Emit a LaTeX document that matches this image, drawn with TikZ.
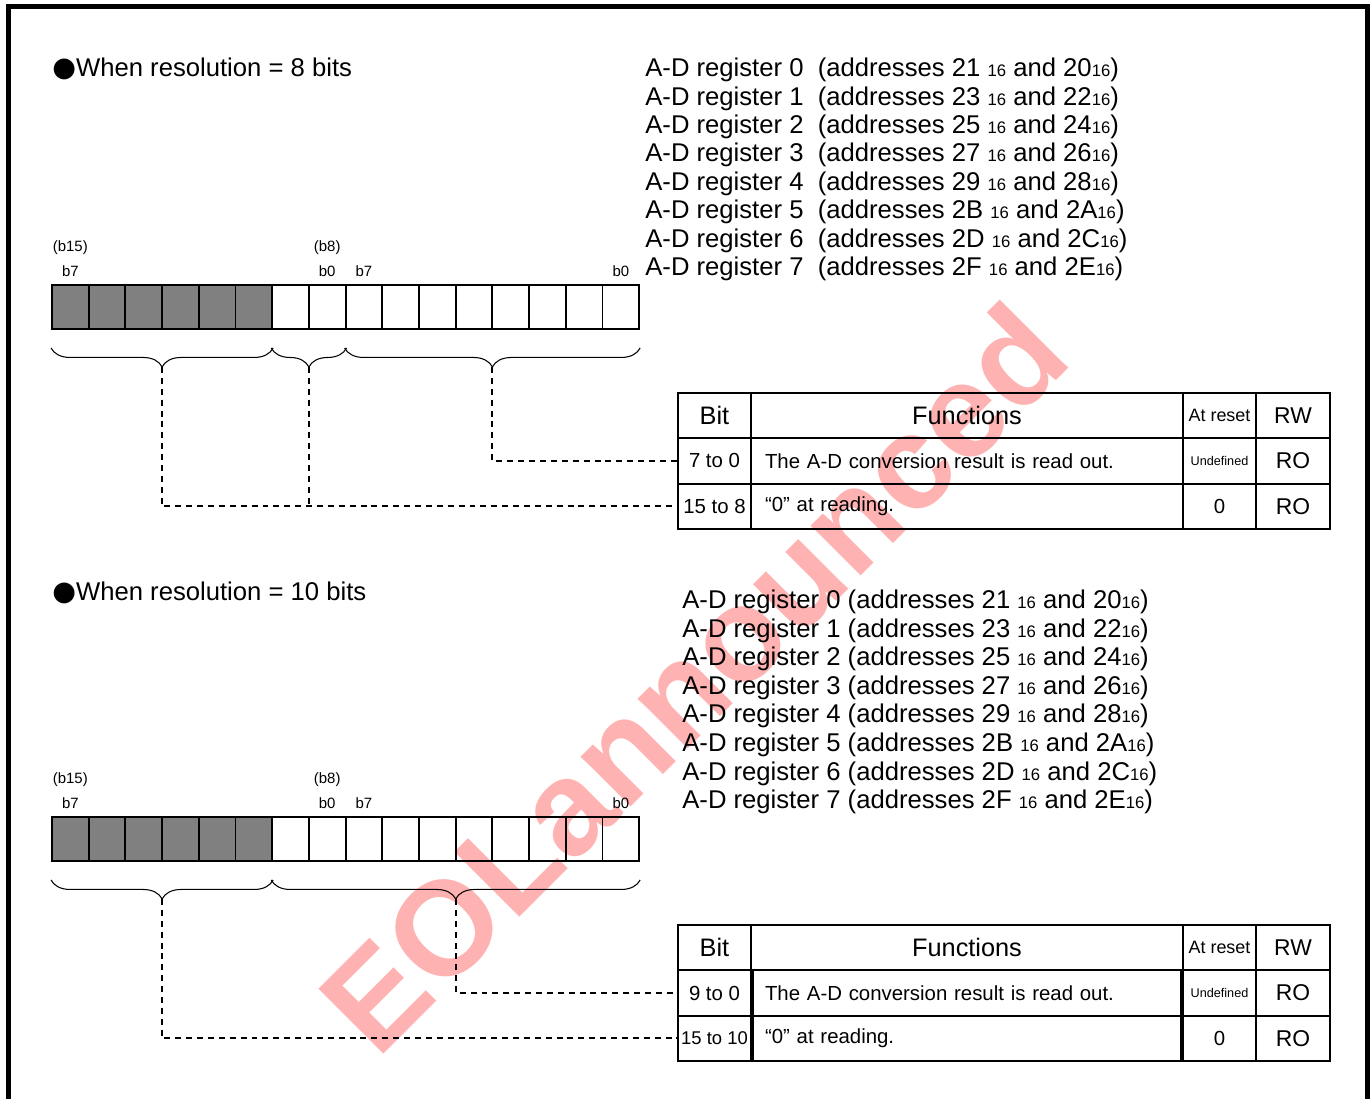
\documentclass[tikz,border=0pt]{standalone}
\usepackage{fontspec}
\setmainfont{Liberation Sans}
\newfontfamily\dejavu{DejaVu Sans}
\usetikzlibrary{positioning,calc,decorations.pathreplacing}
\newcommand{\hexsub}{{\fontsize{9.5}{10}\selectfont 16}}
\newcommand{\blob}{{\dejavu\fontsize{15.5}{17}\selectfont ●}}

\begin{document}
\begin{tikzpicture}[
cell/.style={
draw,
line width=1.1pt,
minimum width=0.734cm,
minimum height=0.88cm,
inner sep=0pt
},
lab/.style={
font=\fontsize{8.5}{10}\selectfont,
inner sep=0pt
},
hd/.style={
font=\fontsize{14.6}{17}\selectfont,
anchor=west,
inner sep=0pt
},
tc/.style={
draw,
line width=1.1pt,
minimum height=0.906cm,
inner sep=0pt,
font=\fontsize{11.6}{14}\selectfont
},
big/.style={
font=\fontsize{14.4}{17}\selectfont
},
rw/.style={
font=\fontsize{13}{15}\selectfont
},
curly/.style={
decorate,
decoration={brace,mirror,amplitude=0.38cm},
line width=0.6pt
},
link/.style={
line width=1.1pt,
dash pattern=on 3.4pt off 2.8pt
}
]

\useasboundingbox (0,0) rectangle (27.44,-21.98);

% watermark
\node[rotate=45,text=red!30,font=\fontsize{76}{80}\bfseries\selectfont]
(wm) at (13.85,-13.55) {EOLannounced};

\draw[line width=0.1cm] (0.16,-21.98) -- (0.16,-0.14) -- (27.34,-0.14) -- (27.34,-21.98);

% resolution = 8 bits
\node[hd] (ha) at (1.04,-1.38) {\blob When resolution = 8 bits};

\foreach \n/\hi/\lo in {0/21/20,1/23/22,2/25/24,3/27/26,4/29/28,5/2B/2A,6/2D/2C,7/2F/2E}
\node[hd] (rega\n) at (12.9,{-1.40-0.5686*\n})
{A-D register \n\ \ (addresses \hi\ \hexsub\ and \lo\hexsub)};

\foreach \i in {0,...,5}
\node[cell,fill=gray] (ta\i) at ({1.407+0.734*\i},-6.14) {};
\foreach \i in {6,...,15}
\node[cell] (ta\i) at ({1.407+0.734*\i},-6.14) {};

\node[lab,above=0.15cm of ta0] (la0) {b7};
\node[lab,above=0.2cm of la0] (la0b) {(b15)};
\node[lab,above=0.15cm of ta7] (la7) {b0};
\node[lab,above=0.2cm of la7] (la7b) {(b8)};
\node[lab,above=0.15cm of ta8] (la8) {b7};
\node[lab,above=0.15cm of ta15] (la15) {b0};

\draw[curly] ([yshift=-0.36cm]ta0.south west) -- ([yshift=-0.36cm]ta5.south east);
\draw[curly] ([yshift=-0.36cm]ta6.south west) -- ([yshift=-0.36cm]ta7.south east);
\draw[curly] ([yshift=-0.36cm]ta8.south west) -- ([yshift=-0.36cm]ta15.south east);
\coordinate (ka1) at ($(ta0.south west)!0.5!(ta5.south east)+(0,-0.74)$);
\coordinate (ka2) at ($(ta6.south west)!0.5!(ta7.south east)+(0,-0.74)$);
\coordinate (ka3) at ($(ta8.south west)!0.5!(ta15.south east)+(0,-0.74)$);

\node[tc,big,minimum width=1.46cm] (ab0) at (14.29,-8.313) {Bit};
\node[tc,big,minimum width=8.64cm] (af0) at (19.34,-8.313) {Functions};
\node[tc,minimum width=1.46cm,font=\fontsize{10.2}{12}\selectfont] (ar0) at (24.39,-8.313) {At reset};
\node[tc,rw,minimum width=1.48cm] (aw0) at (25.86,-8.313) {RW};

\node[tc,minimum width=1.46cm] (ab1) at (14.29,-9.219) {7 to 0};
\node[tc,text width=8.08cm,inner xsep=0.28cm,align=left] (af1) at (19.34,-9.219)
{The A-D conversion result is read out.};
\node[tc,minimum width=1.46cm,font=\fontsize{7.2}{9}\selectfont] (ar1) at (24.39,-9.219) {Undefined};
\node[tc,rw,minimum width=1.48cm] (aw1) at (25.86,-9.219) {RO};

\node[tc,minimum width=1.46cm] (ab2) at (14.29,-10.125) {15 to 8};
\node[tc,text width=8.08cm,inner xsep=0.28cm,align=left] (af2) at (19.34,-10.125)
{“0” at reading.};
\node[tc,minimum width=1.46cm] (ar2) at (24.39,-10.125) {0};
\node[tc,rw,minimum width=1.48cm] (aw2) at (25.86,-10.125) {RO};

\draw[link] (ka3) |- (ab1.west);
\draw[link] (ka1) |- (ab2.west);
\draw[link] (ka2) -- (ka2 |- ab2.west);

% resolution = 10 bits
\node[hd] (hb) at (1.04,-11.86) {\blob When resolution = 10 bits};

\foreach \n/\hi/\lo in {0/21/20,1/23/22,2/25/24,3/27/26,4/29/28,5/2B/2A,6/2D/2C,7/2F/2E}
\node[hd] (regb\n) at (13.64,{-12.04-0.5714*\n})
{A-D register \n\ (addresses \hi\ \hexsub\ and \lo\hexsub)};

\foreach \i in {0,...,5}
\node[cell,fill=gray] (tb\i) at ({1.407+0.734*\i},-16.78) {};
\foreach \i in {6,...,15}
\node[cell] (tb\i) at ({1.407+0.734*\i},-16.78) {};

\node[lab,above=0.15cm of tb0] (lb0) {b7};
\node[lab,above=0.2cm of lb0] (lb0b) {(b15)};
\node[lab,above=0.15cm of tb7] (lb7) {b0};
\node[lab,above=0.2cm of lb7] (lb7b) {(b8)};
\node[lab,above=0.15cm of tb8] (lb8) {b7};
\node[lab,above=0.15cm of tb15] (lb15) {b0};

\draw[curly] ([yshift=-0.36cm]tb0.south west) -- ([yshift=-0.36cm]tb5.south east);
\draw[curly] ([yshift=-0.36cm]tb6.south west) -- ([yshift=-0.36cm]tb15.south east);
\coordinate (kb1) at ($(tb0.south west)!0.5!(tb5.south east)+(0,-0.74)$);
\coordinate (kb2) at ($(tb6.south west)!0.5!(tb15.south east)+(0,-0.74)$);

\node[tc,big,minimum width=1.46cm] (bb0) at (14.29,-18.953) {Bit};
\node[tc,big,minimum width=8.64cm] (bf0) at (19.34,-18.953) {Functions};
\node[tc,minimum width=1.46cm,font=\fontsize{10.2}{12}\selectfont] (br0) at (24.39,-18.953) {At reset};
\node[tc,rw,minimum width=1.48cm] (bw0) at (25.86,-18.953) {RW};

\node[tc,minimum width=1.46cm] (bb1) at (14.29,-19.86) {9 to 0};
\node[tc,text width=8.08cm,inner xsep=0.24cm,align=left] (bf1) at (19.34,-19.86)
{The A-D conversion result is read out.};
\node[tc,minimum width=1.46cm,font=\fontsize{7.2}{9}\selectfont] (br1) at (24.39,-19.86) {Undefined};
\node[tc,rw,minimum width=1.48cm] (bw1) at (25.86,-19.86) {RO};

\node[tc,minimum width=1.46cm,font=\fontsize{10.5}{12}\selectfont] (bb2) at (14.29,-20.767) {15 to 10};
\node[tc,text width=8.08cm,inner xsep=0.24cm,align=left] (bf2) at (19.34,-20.767)
{“0” at reading.};
\node[tc,minimum width=1.46cm] (br2) at (24.39,-20.767) {0};
\node[tc,rw,minimum width=1.48cm] (bw2) at (25.86,-20.767) {RO};

\draw[link] (kb2) |- (bb1.west);
\draw[link] (kb1) |- (bb2.west);

\end{tikzpicture}
\end{document}
